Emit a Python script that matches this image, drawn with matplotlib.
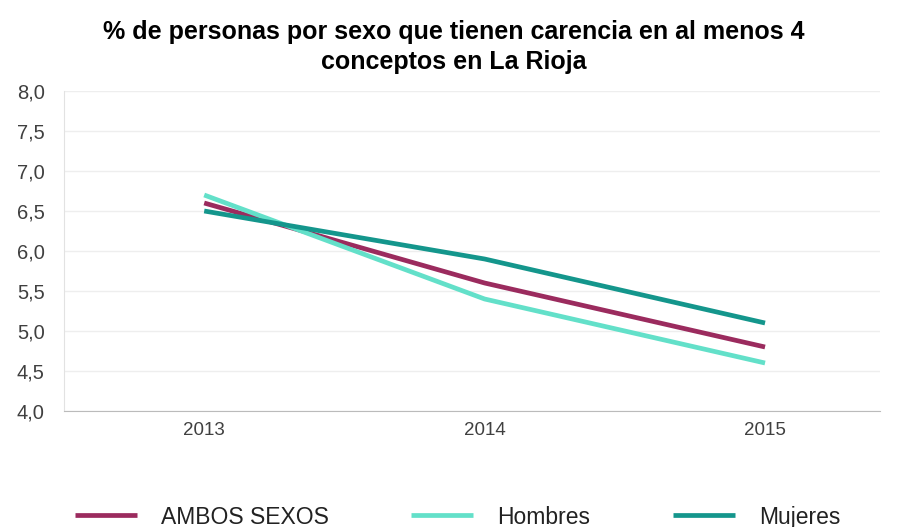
import matplotlib
matplotlib.use("Agg")
import matplotlib.pyplot as plt
from matplotlib.ticker import MultipleLocator, FuncFormatter

years = ["2013", "2014", "2015"]
ambos = [6.6, 5.6, 4.8]
hombres = [6.7, 5.4, 4.6]
mujeres = [6.5, 5.9, 5.1]
series_names = ["AMBOS SEXOS", "Hombres", "Mujeres"]
colors = ["#9B2B5E", "#63E0C9", "#14968C"]

plt.rcParams['font.family'] = ['Liberation Sans', 'DejaVu Sans']

fig = plt.figure(figsize=(8.99, 5.27), dpi=100)
ax = fig.add_axes([64/899, 116/527, (880-64)/899, (411-91)/527])

x = list(range(len(years)))
for vals, name, c in zip([ambos, hombres, mujeres], series_names, colors):
    ax.plot(x, vals, color=c, lw=3.4, label=name, solid_capstyle='butt')

ax.set_xlim(-0.5, 2.41)
ax.set_ylim(4.0, 8.0)
ax.yaxis.set_major_locator(MultipleLocator(0.5))
ax.yaxis.set_major_formatter(FuncFormatter(lambda v, p: f"{v:.1f}".replace(".", ",")))
ax.set_xticks(x)
ax.set_xticklabels(years)
ax.grid(axis='y', color='#EEEEEE', lw=1)
ax.set_axisbelow(True)
for s in ['top', 'right']:
    ax.spines[s].set_visible(False)
ax.spines['left'].set_color('#E2E2E2')
ax.spines['bottom'].set_color('#BBBBBB')
ax.tick_params(axis='x', length=0, labelsize=13.5, labelcolor='#404040', pad=8)
ax.tick_params(axis='y', length=0, labelsize=14.5, labelcolor='#404040', pad=14)

fig.text(0.505, 0.962, "% de personas por sexo que tienen carencia en al menos 4\nconceptos en La Rioja",
         ha='center', va='top', fontsize=18, fontweight='bold', linespacing=1.3)

leg = fig.legend(loc='lower center', bbox_to_anchor=(0.509, -0.042), ncol=3, frameon=False,
                 fontsize=16.5, handlelength=2.7, columnspacing=3.6, handletextpad=1.05)
for t in leg.get_texts():
    t.set_color('#222222')

fig.savefig("out.png", dpi=100)
